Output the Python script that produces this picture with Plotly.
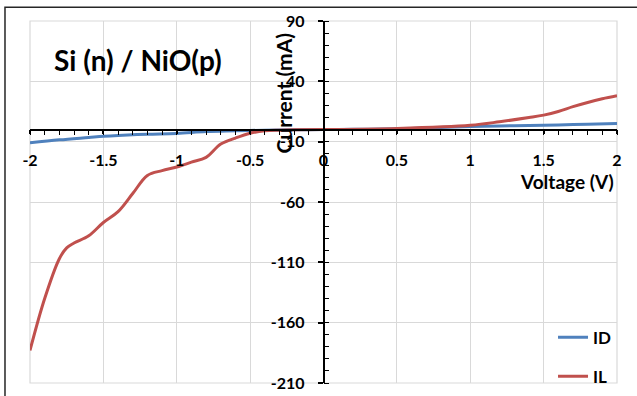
import plotly.graph_objects as go

# Voltage sweep (V)
voltage_dark = [-2.0, -1.8, -1.6, -1.5, -1.4, -1.2, -1.0, -0.8, -0.6, -0.4, -0.2, 0.0,
                0.2, 0.4, 0.6, 0.8, 1.0, 1.2, 1.4, 1.6, 1.8, 2.0]
# Dark current ID (mA)
current_dark = [-11.0, -8.5, -6.5, -5.5, -4.8, -3.8, -3.2, -1.6, -1.0, -0.5, -0.2, 0.0,
                0.2, 0.5, 1.0, 1.8, 2.5, 3.0, 3.4, 3.9, 4.4, 5.0]

voltage_light = [-2.0, -1.9, -1.8, -1.75, -1.7, -1.6, -1.5, -1.4, -1.3, -1.2, -1.1, -1.0,
                 -0.9, -0.8, -0.7, -0.6, -0.5, -0.4, -0.3, -0.2, 0.0, 0.5, 1.0, 1.2,
                 1.4, 1.5, 1.6, 1.7, 1.8, 1.9, 2.0]
# Illuminated current IL (mA)
current_light = [-183.0, -140.0, -107.0, -98.0, -94.0, -88.0, -77.0, -68.0, -53.0, -38.0,
                 -34.0, -31.0, -27.0, -23.0, -12.0, -7.0, -3.0, -1.0, -0.5, -0.2, 0.0,
                 1.0, 3.6, 6.5, 10.0, 12.0, 15.0, 19.0, 22.5, 25.5, 28.0]

# Axis tick values and their labels (plain hyphen minus)
x_ticks = [-2, -1.5, -1, -0.5, 0, 0.5, 1, 1.5, 2]
x_tick_labels = ["-2", "-1.5", "-1", "-0.5", "0", "0.5", "1", "1.5", "2"]
y_ticks = [-210, -160, -110, -60, -10, 40, 90]
y_tick_labels = ["-210", "-160", "-110", "-60", "-10", "40", "90"]

x_range = [-2, 2]
y_range = [-210, 90]

FONT = "Lato"
BLUE = "#4F81BD"
RED = "#C0504D"
GRID = "#D9D9D9"

fig = go.Figure()
fig.add_trace(go.Scatter(x=voltage_dark, y=current_dark, mode="lines", name="ID",
                         line=dict(color=BLUE, width=3, shape="spline"),
                         legendgroup="a"))
fig.add_trace(go.Scatter(x=voltage_light, y=current_light, mode="lines", name="IL",
                         line=dict(color=RED, width=3, shape="spline"),
                         legendgroup="b"))

tick_font = dict(family=FONT, size=16, color="black", weight=700)
x_pos = (0 - y_range[0]) / (y_range[1] - y_range[0])
y_pos = (0 - x_range[0]) / (x_range[1] - x_range[0])

fig.update_layout(
    width=637, height=396,
    margin=dict(l=30, r=20, t=21, b=13, autoexpand=False),
    paper_bgcolor="white", plot_bgcolor="white",
    showlegend=True,
    legend=dict(x=0.891, y=0.175, xanchor="left", yanchor="top",
                font=dict(family=FONT, size=17, color="black", weight=700),
                tracegroupgap=14, bgcolor="rgba(0,0,0,0)"),
    xaxis=dict(range=x_range, anchor="free", position=x_pos, automargin=False,
               tickmode="array", tickvals=x_ticks, ticktext=x_tick_labels,
               showgrid=True, gridcolor=GRID, gridwidth=1.2,
               zeroline=False, showline=True, linecolor="black", linewidth=1.5,
               ticks="outside", ticklen=4, tickwidth=1.5, tickcolor="black",
               minor=dict(tick0=-2, dtick=0.1, ticks="outside", ticklen=5, tickwidth=1.2,
                          tickcolor="black", showgrid=False),
               tickfont=tick_font, ticklabelstandoff=12),
    xaxis2=dict(range=x_range, overlaying="x", anchor="free", position=x_pos,
                automargin=False, tickmode="array", tickvals=x_ticks,
                showgrid=False, zeroline=False, showline=False,
                ticks="inside", ticklen=6, tickwidth=1.5, tickcolor="black",
                showticklabels=False),
    yaxis=dict(range=y_range, domain=[0, 1], anchor="free", position=y_pos, side="left",
               automargin=False, tickmode="array", tickvals=y_ticks, ticktext=y_tick_labels,
               showgrid=True, gridcolor=GRID, gridwidth=1.2,
               zeroline=False, showline=True, linecolor="black", linewidth=1.5,
               ticks="outside", ticklen=5, tickwidth=1.5, tickcolor="black",
               minor=dict(tick0=-210, dtick=10, ticks="inside", ticklen=5, tickwidth=1.2,
                          tickcolor="black", showgrid=False),
               tickfont=tick_font, ticklabelstandoff=10),
    yaxis2=dict(range=y_range, overlaying="y", anchor="free", position=y_pos, side="left",
                automargin=False, tickmode="array", tickvals=y_ticks,
                showgrid=False, zeroline=False, showline=False,
                ticks="inside", ticklen=5, tickwidth=1.5, tickcolor="black",
                showticklabels=False),
)

# plot-area edges and outer frame
fig.add_shape(type="rect", xref="paper", yref="paper", x0=0, x1=1, y0=0, y1=1,
              line=dict(color=GRID, width=1.2), layer="below")
fig.add_shape(type="rect", xref="paper", yref="paper", x0=-0.0426, x1=1.2,
              y0=-0.2, y1=1.0378, line=dict(color="#262626", width=1.5))

fig.add_annotation(text="Si (n) / NiO(p)", xref="paper", yref="paper",
                   x=0.184, y=0.8915, xanchor="center", yanchor="middle", showarrow=False,
                   font=dict(family=FONT, size=28, color="black", weight=700))
fig.add_annotation(text="Current (mA)", xref="paper", yref="paper",
                   x=0.431, y=0.80, xanchor="center", yanchor="middle", showarrow=False,
                   textangle=-90,
                   font=dict(family=FONT, size=21, color="black", weight=700))
fig.add_annotation(text="Voltage (V)", xref="paper", yref="paper",
                   x=0.915, y=0.5576, xanchor="center", yanchor="middle", showarrow=False,
                   font=dict(family=FONT, size=19, color="black", weight=700))

fig.write_html("out.html")
